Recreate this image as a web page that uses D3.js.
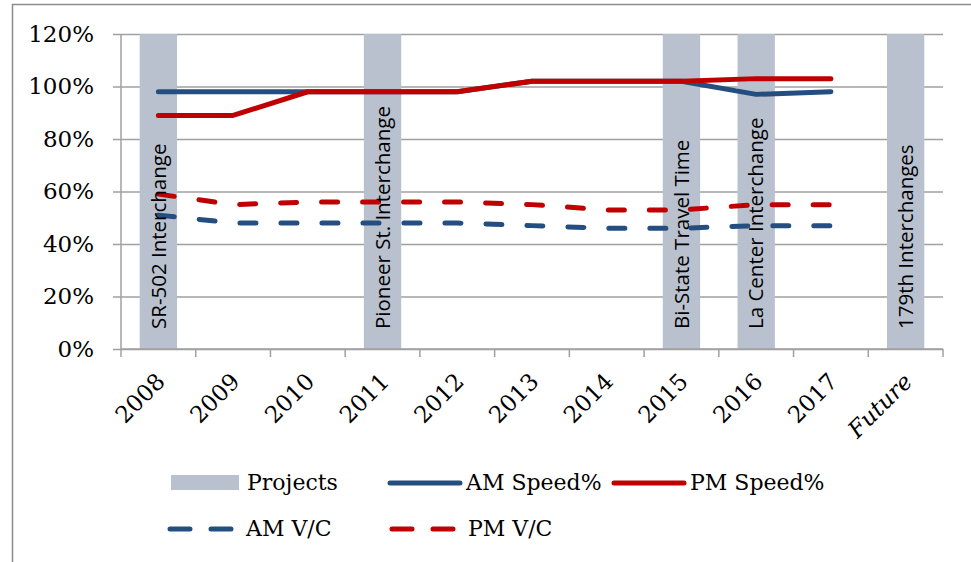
<!DOCTYPE html>
<html>
<head>
<meta charset="utf-8">
<script src="https://cdn.jsdelivr.net/npm/d3@7"></script>
<style>
  body { margin: 0; background: #fff; }
  svg { display: block; }
</style>
</head>
<body>
<div id="chart-area"></div>
<script>
// Corridor performance vs. projects

const categories = ["2008", "2009", "2010", "2011", "2012", "2013", "2014", "2015", "2016", "2017", "Future"];
const projects = [1.2, null, null, 1.2, null, null, null, 1.2, 1.2, null, 1.2];
const projectLabels = ["SR-502 Interchange", "", "", "Pioneer St. Interchange", "", "", "",
    "Bi-State Travel Time", "La Center Interchange", "", "179th Interchanges"];
const amSpeed = [0.98, 0.98, 0.98, 0.98, 0.98, 1.02, 1.02, 1.02, 0.97, 0.98];
const pmSpeed = [0.89, 0.89, 0.98, 0.98, 0.98, 1.02, 1.02, 1.02, 1.03, 1.03];
const amVC = [0.51, 0.48, 0.48, 0.48, 0.48, 0.47, 0.46, 0.46, 0.47, 0.47];
const pmVC = [0.59, 0.55, 0.56, 0.56, 0.56, 0.55, 0.53, 0.53, 0.55, 0.55];
const yTicks = [0, 0.2, 0.4, 0.6, 0.8, 1.0, 1.2];

const W = 971, H = 562
const LEFT = 121, RIGHT = 943, TOP = 34, BOTTOM = 349

const BLUE = "#254e80", RED = "#c00000", BAR = "#b9c1cf", GRID = "#a0a0a0"
const SERIF = "'DejaVu Serif', serif"
const SANS = "'Open Sans', sans-serif"

const svg = d3.select("#chart-area").append("svg")
    .attr("width", W)
    .attr("height", H)

// chart frame
svg.append("rect")
    .attr("x", 12.5).attr("y", 4.5)
    .attr("width", 1000).attr("height", 700)
    .attr("fill", "none")
    .attr("stroke", "#8c8c8c")
    .attr("stroke-width", 1.5)

const x = d3.scaleBand()
    .domain(categories)
    .range([LEFT, RIGHT])
    .paddingInner(0.5)
    .paddingOuter(0.25)

const y = d3.scaleLinear()
    .domain([0, 1.2])
    .range([BOTTOM, TOP])

const cx = d => x(d) + x.bandwidth() / 2

// gridlines + y axis
const yAxisCall = d3.axisLeft(y)
    .tickValues(yTicks)
    .tickSize(-(RIGHT - LEFT))
    .tickFormat(d3.format(".0%"))
const yAxis = svg.append("g")
    .attr("transform", `translate(${LEFT}, 0)`)
    .call(yAxisCall)
yAxis.select(".domain").remove()
yAxis.selectAll(".tick line")
    .attr("stroke", GRID)
    .attr("stroke-width", 1.5)
    .attr("x1", -8)
yAxis.selectAll(".tick text")
    .attr("x", -27)
    .attr("font-family", SERIF)
    .attr("font-size", "23px")
    .attr("fill", "#000")
svg.append("line")
    .attr("x1", LEFT).attr("x2", LEFT)
    .attr("y1", TOP).attr("y2", BOTTOM)
    .attr("stroke", GRID).attr("stroke-width", 1.5)

// project bars
const barData = categories.map((c, i) => ({ cat: c, v: projects[i], label: projectLabels[i] }))
    .filter(d => d.v != null)

svg.selectAll("rect.bar").data(barData)
    .enter().append("rect")
    .attr("class", "bar")
    .attr("x", d => x(d.cat))
    .attr("y", d => y(d.v))
    .attr("width", x.bandwidth())
    .attr("height", d => y(0) - y(d.v))
    .attr("fill", BAR)

// x axis (ticks between categories)
const xAxis = svg.append("g")
    .attr("transform", `translate(0, ${BOTTOM})`)
xAxis.append("line")
    .attr("x1", LEFT).attr("x2", RIGHT)
    .attr("stroke", GRID).attr("stroke-width", 1.5)
const step = x.step()
xAxis.selectAll("line.tick").data(d3.range(categories.length + 1))
    .enter().append("line")
    .attr("class", "tick")
    .attr("x1", i => LEFT + i * step).attr("x2", i => LEFT + i * step)
    .attr("y1", 0).attr("y2", 8)
    .attr("stroke", GRID).attr("stroke-width", 1.5)
xAxis.selectAll("text").data(categories)
    .enter().append("text")
    .attr("transform", d => `translate(${cx(d) + 8}, 34) rotate(-45)`)
    .attr("text-anchor", "end")
    .attr("font-family", SERIF)
    .attr("font-size", "23px")
    .attr("font-style", d => d == "Future" ? "italic" : "normal")
    .text(d => d)

// lines
const lineGen = d3.line()
    .x((d, i) => cx(categories[i]))
    .y(d => y(d))

const series = [
    { values: amSpeed, color: BLUE, dash: null },
    { values: pmSpeed, color: RED, dash: null },
    { values: amVC, color: BLUE, dash: "16,25" },
    { values: pmVC, color: RED, dash: "16,25" }
]

svg.selectAll("path.series").data(series)
    .enter().append("path")
    .attr("class", "series")
    .attr("d", d => lineGen(d.values))
    .attr("fill", "none")
    .attr("stroke", d => d.color)
    .attr("stroke-width", 5)
    .attr("stroke-linecap", "round")
    .attr("stroke-linejoin", "round")
    .attr("stroke-dasharray", d => d.dash)

// bar labels
svg.selectAll("text.barlabel").data(barData)
    .enter().append("text")
    .attr("class", "barlabel")
    .attr("transform", d => `translate(${cx(d.cat)}, ${BOTTOM - 20}) rotate(-90)`)
    .attr("dy", "0.35em")
    .attr("font-family", SANS)
    .attr("font-size", "20.5px")
    .attr("fill", "#000")
    .text(d => d.label)

// legend
const legend = svg.append("g")
    .attr("font-family", SERIF)
    .attr("font-size", "22px")

legend.append("rect")
    .attr("x", 171).attr("y", 475)
    .attr("width", 68).attr("height", 15)
    .attr("fill", BAR)
legend.append("text").attr("x", 247).attr("y", 490).text("Projects")

const legendLines = [
    { x: 390, y: 483, color: BLUE, dash: null, label: "AM Speed%" },
    { x: 614, y: 483, color: RED, dash: null, label: "PM Speed%" },
    { x: 170, y: 529, color: BLUE, dash: "20,21", label: "AM V/C" },
    { x: 392, y: 529, color: RED, dash: "20,21", label: "PM V/C" }
]
legendLines.forEach(l => {
    legend.append("line")
        .attr("x1", l.x).attr("x2", l.x + 70)
        .attr("y1", l.y).attr("y2", l.y)
        .attr("stroke", l.color)
        .attr("stroke-width", 5)
        .attr("stroke-linecap", "round")
        .attr("stroke-dasharray", l.dash)
    legend.append("text")
        .attr("x", l.x + 76)
        .attr("y", l.y + 7)
        .text(l.label)
})
</script>
</body>
</html>
